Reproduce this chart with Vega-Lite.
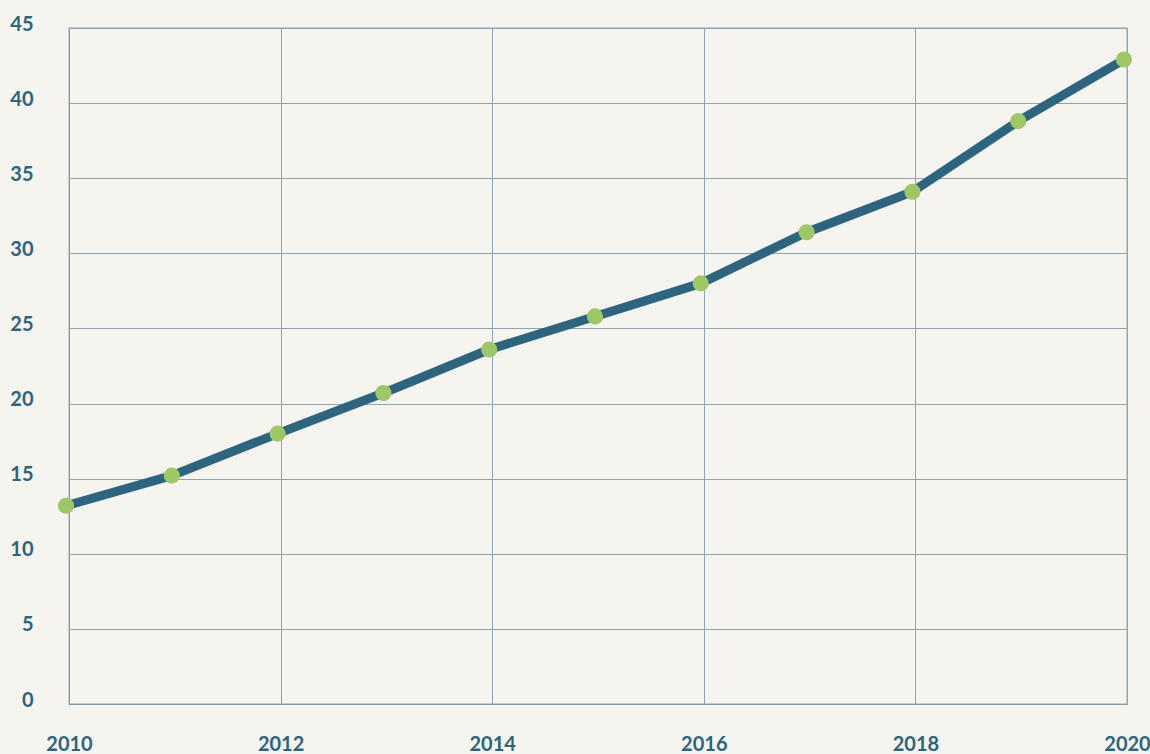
{
  "$schema": "https://vega.github.io/schema/vega-lite/v6.json",
  "width": 1058,
  "height": 676,
  "autosize": {"type": "none"},
  "padding": {"left": 69, "top": 28, "right": 23, "bottom": 50},
  "background": "#f5f4ee",
  "config": {
    "view": {"stroke": "#b3c0ca", "strokeWidth": 1.5},
    "axis": {
      "labelFont": "Lato",
      "labelFontWeight": "bold",
      "labelFontSize": 20,
      "labelColor": "#2b6580",
      "gridColor": "#8ea3b3",
      "gridWidth": 1,
      "domainColor": "#7f9bb0",
      "ticks": false,
      "title": null
    }
  },
  "data": {
    "values": [
      {"year": 2010, "value": 13.2},
      {"year": 2011, "value": 15.2},
      {"year": 2012, "value": 18.0},
      {"year": 2013, "value": 20.7},
      {"year": 2014, "value": 23.6},
      {"year": 2015, "value": 25.8},
      {"year": 2016, "value": 28.0},
      {"year": 2017, "value": 31.4},
      {"year": 2018, "value": 34.1},
      {"year": 2019, "value": 38.8},
      {"year": 2020, "value": 42.9}
    ]
  },
  "encoding": {
    "x": {
      "field": "year",
      "type": "quantitative",
      "scale": {"domain": [2010, 2020], "nice": false, "zero": false},
      "axis": {
        "values": [2010, 2012, 2014, 2016, 2018, 2020],
        "format": "d",
        "labelPadding": 30,
        "labelBaseline": "top",
        "labelFlush": false
      }
    },
    "y": {
      "field": "value",
      "type": "quantitative",
      "scale": {"domain": [0, 45], "nice": false},
      "axis": {
        "values": [0, 5, 10, 15, 20, 25, 30, 35, 40, 45],
        "labelPadding": 36,
        "labelBaseline": "alphabetic",
        "labelOffset": 2
      }
    }
  },
  "layer": [
    {
      "mark": {"type": "line", "color": "#2b6580", "strokeWidth": 9, "strokeCap": "round", "strokeJoin": "round", "xOffset": -3}
    },
    {
      "mark": {"type": "circle", "color": "#9dc864", "opacity": 1, "size": 260, "xOffset": -3}
    }
  ]
}
